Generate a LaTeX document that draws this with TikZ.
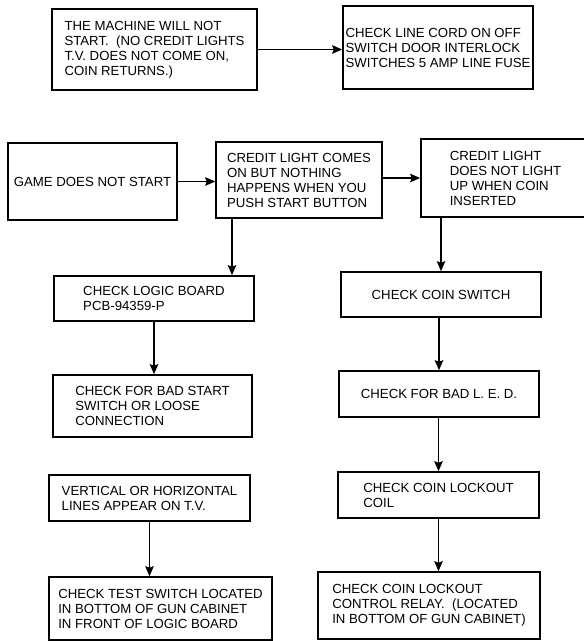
\documentclass[tikz,border=0pt]{standalone}
\usepackage{fontspec}
\setmainfont{Liberation Sans}
\usetikzlibrary{arrows.meta,positioning,calc}

\begin{document}
\begin{tikzpicture}[
    x=1pt, y=-1pt,
    box/.style={rectangle, draw, line width=1.6pt, align=left, inner sep=0pt, font=\fontsize{13.2}{15}\selectfont},
    arrow/.style={-{Stealth[length=10pt, width=8.5pt, inset=1.5pt]}, line width=1.6pt}
  ]
    \clip (0,0) rectangle (584,641);

    % Power problem
    \node[box, minimum width=205pt, minimum height=81pt] (start) at (154.5,49.5)
      {THE MACHINE WILL NOT\\START.\ \ (NO CREDIT LIGHTS\\T.V. DOES NOT COME ON,\\COIN RETURNS.)};
    \node[box, minimum width=190pt, minimum height=83pt] (cord) at (438,47.5)
      {CHECK LINE CORD ON OFF\\SWITCH DOOR INTERLOCK\\SWITCHES 5 AMP LINE FUSE};

    % Game does not start
    \node[box, minimum width=169pt, minimum height=77pt] (game) at (92.5,181.5) {GAME DOES NOT START};
    \node[box, minimum width=166pt, minimum height=76pt] (credon) at (299,180)
      {CREDIT LIGHT COMES\\ON BUT NOTHING\\HAPPENS WHEN YOU\\PUSH START BUTTON};
    \node[box, minimum width=169pt, minimum height=78pt] (credoff) at (505.5,178)
      {CREDIT LIGHT\\DOES NOT LIGHT\\UP WHEN COIN\\INSERTED};

    % Left column
    \node[box, minimum width=200pt, minimum height=45pt] (logic) at (154,298.5)
      {CHECK LOGIC BOARD\\PCB-94359-P};
    \node[box, minimum width=199pt, minimum height=62pt] (badstart) at (152.5,406)
      {CHECK FOR BAD START\\SWITCH OR LOOSE\\CONNECTION};
    \node[box, minimum width=201pt, minimum height=46pt] (lines) at (149.5,498)
      {VERTICAL OR HORIZONTAL\\LINES APPEAR ON T.V.};
    \node[box, minimum width=223pt, minimum height=63pt] (testsw) at (160.5,608.5)
      {CHECK TEST SWITCH LOCATED\\IN BOTTOM OF GUN CABINET\\IN FRONT OF LOGIC BOARD};

    % Right column
    \node[box, minimum width=200pt, minimum height=45pt] (coinsw) at (441,294.5) {CHECK COIN SWITCH};
    \node[box, minimum width=200pt, minimum height=46pt] (led) at (439,394) {CHECK FOR BAD L. E. D.};
    \node[box, minimum width=201pt, minimum height=46pt] (coil) at (438.5,495)
      {CHECK COIN LOCKOUT\\COIL};
    \node[box, minimum width=222pt, minimum height=67pt] (relay) at (429,605.5)
      {CHECK COIN LOCKOUT\\CONTROL RELAY.\ \ (LOCATED\\IN BOTTOM OF GUN CABINET)};

    % Arrows
    \draw[arrow] (start.east) -- (start.east -| cord.west);
    \draw[arrow] (game.east) -- (game.east -| credon.west);
    \draw[arrow] (credoff.west -| credon.east) -- (credoff.west);
    \draw[arrow] ([xshift=-67pt]credon.south) -- ([xshift=-67pt]credon.south |- logic.north);
    \draw[arrow] (credoff.south -| coinsw.north) -- (coinsw.north);
    \draw[arrow] (logic.south) -- (logic.south |- badstart.north);
    \draw[arrow] (coinsw.south -| led.north) -- (led.north);
    \draw[arrow] (led.south -| coil.north) -- (coil.north);
    \draw[arrow] (coil.south) -- (coil.south |- relay.north);
    \draw[arrow] (lines.south) -- (lines.south |- testsw.north);
\end{tikzpicture}
\end{document}
